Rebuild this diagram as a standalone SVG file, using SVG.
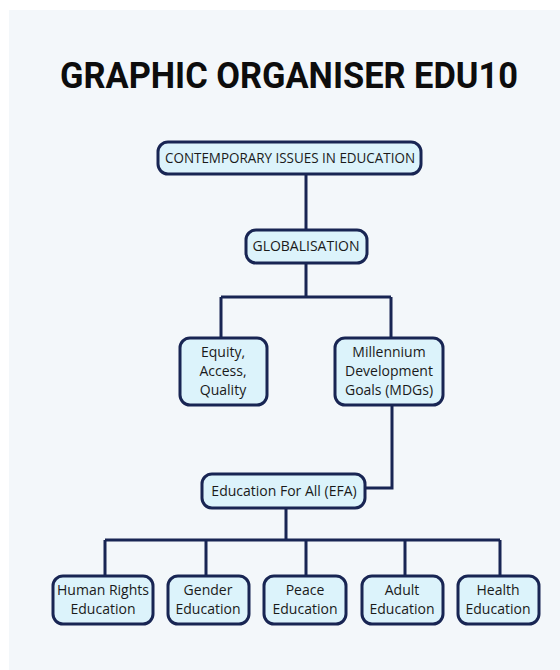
<svg xmlns="http://www.w3.org/2000/svg" width="560" height="670" viewBox="0 0 560 670">
<style>
.n{fill:#dcf3fb;stroke:#182553;stroke-width:3}
.t{font-family:"Open Sans","Noto Sans",sans-serif;font-size:14px;fill:#1a1a1a;text-anchor:middle}
.c{fill:none;stroke:#182553;stroke-width:3}
</style>
<rect width="560" height="670" fill="#ffffff"/>
<rect x="9" y="10" width="551" height="660" fill="#f3f7fa"/>
<text x="289" y="88" font-family="Roboto,'Open Sans',sans-serif" font-weight="bold" font-size="36" text-anchor="middle" fill="#0d0d0d" textLength="458" lengthAdjust="spacingAndGlyphs">GRAPHIC ORGANISER EDU10</text>
<g id="connectors">
<path class="c" d="M306 174V230"/>
<path class="c" d="M306 263V297M221 297H391M221 297V338M391 297V338"/>
<path class="c" d="M392 405V488H365"/>
<path class="c" d="M286 508V540M105 540H500M105 540V576M206 540V576M306 540V576M405 540V576M500 540V576"/>
</g>
<g id="n1"><rect class="n" x="158" y="142" width="263" height="32" rx="10"/><text class="t" x="290" y="163" font-size="13" textLength="250" lengthAdjust="spacingAndGlyphs">CONTEMPORARY ISSUES IN EDUCATION</text></g>
<g id="n2"><rect class="n" x="246" y="230" width="121" height="33" rx="10"/><text class="t" x="306" y="251" font-size="13">GLOBALISATION</text></g>
<g id="n3"><rect class="n" x="180" y="338" width="87" height="67" rx="10"/><text class="t" x="223" y="357">Equity,</text><text class="t" x="223" y="376">Access,</text><text class="t" x="223" y="395">Quality</text></g>
<g id="n4"><rect class="n" x="335" y="338" width="108" height="67" rx="10"/><text class="t" x="389" y="357">Millennium</text><text class="t" x="389" y="376">Development</text><text class="t" x="389" y="395">Goals (MDGs)</text></g>
<g id="n5"><rect class="n" x="202" y="474" width="163" height="34" rx="10"/><text class="t" x="284" y="496">Education For All (EFA)</text></g>
<g id="n6"><rect class="n" x="53" y="576" width="100" height="48" rx="10"/><text class="t" x="103" y="595">Human Rights</text><text class="t" x="103" y="614">Education</text></g>
<g id="n7"><rect class="n" x="168" y="576" width="81" height="48" rx="10"/><text class="t" x="208" y="595">Gender</text><text class="t" x="208" y="614">Education</text></g>
<g id="n8"><rect class="n" x="264" y="576" width="82" height="48" rx="10"/><text class="t" x="305" y="595">Peace</text><text class="t" x="305" y="614">Education</text></g>
<g id="n9"><rect class="n" x="362" y="576" width="81" height="48" rx="10"/><text class="t" x="402" y="595">Adult</text><text class="t" x="402" y="614">Education</text></g>
<g id="n10"><rect class="n" x="458" y="576" width="81" height="48" rx="10"/><text class="t" x="498" y="595">Health</text><text class="t" x="498" y="614">Education</text></g>
</svg>
